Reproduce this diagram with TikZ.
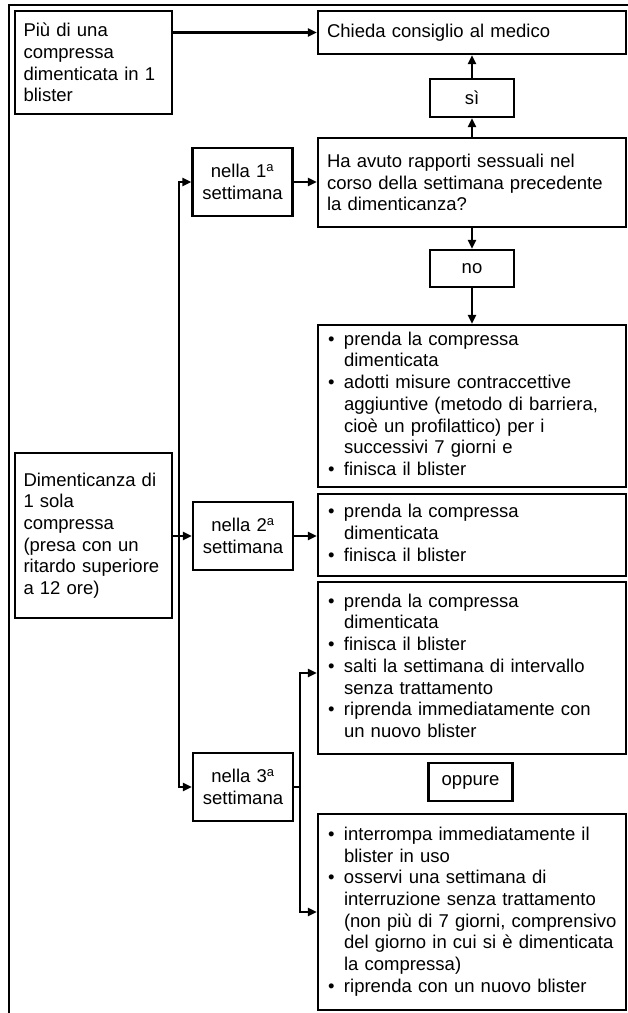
\documentclass[tikz,border=0pt]{standalone}
\usepackage{fontspec}
\setmainfont{Liberation Sans}
\usepackage{tikz}
\usetikzlibrary{arrows.meta}
\newcommand{\bul}{\textbullet&}
\newcommand{\blist}[1]{\begin{tabular}{@{}p{16pt}@{}l@{}}#1\end{tabular}}
\newcommand{\wk}[1]{nella #1\textsuperscript{a}\\settimana}
\tikzset{
  cellbox/.style={draw, line width=2.2pt, inner ysep=2pt},
  sidebox/.style={cellbox, text width=140pt, inner xsep=8.5pt, align=left},
  widebox/.style={cellbox, text width=290pt, inner xsep=9pt, align=left},
  listbox/.style={cellbox, text width=288pt, inner xsep=10pt, align=left},
  weekbox/.style={cellbox, text width=84pt, inner xsep=8pt, align=center, minimum height=68pt},
  tagbox/.style={cellbox, minimum width=84pt, minimum height=38pt, align=center},
  arr/.style={-{Triangle[length=9pt,width=8pt]}, line width=2.2pt}
}

\begin{document}
\begin{tikzpicture}[x=1pt, y=-1pt, font=\fontsize{18.5}{21.7}\selectfont]
\useasboundingbox (0,0) rectangle (628,1013);
\draw[line width=2.2pt] (9,1013) -- (9,5) -- (628,5);
\node[sidebox, minimum height=103pt] at (93.5, 62.5)  (more)  {Più di una\\compressa\\dimenticata in 1\\blister};
\node[widebox, minimum height=43pt]  at (472, 32.5)   (ask)   {Chieda consiglio al medico};
\node[tagbox]                        at (472, 98)     (si)    {sì};
\node[widebox, minimum height=89pt]  at (472, 182.5)  (quest) {Ha avuto rapporti sessuali nel\\corso della settimana precedente\\la dimenticanza?};
\node[tagbox, minimum height=37pt]   at (472, 268.5)  (no)    {no};
\node[listbox, minimum height=162pt] at (472, 406)    (b1)    {\blist{\bul prenda la compressa\\ & dimenticata\\ \bul adotti misure contraccettive\\ & aggiuntive (metodo di barriera,\\ & cioè un profilattico) per i\\ & successivi 7 giorni e\\ \bul finisca il blister}};
\node[sidebox, minimum height=165pt] at (93.5, 535.5) (dim)   {Dimenticanza di\\1 sola\\compressa\\(presa con un\\ritardo superiore\\a 12 ore)};
\node[weekbox]                       at (242.5, 182)  (w1)    {\wk{1}};
\node[weekbox]                       at (243, 536)    (w2)    {\wk{2}};
\node[weekbox]                       at (243, 787)    (w3)    {\wk{3}};
\node[listbox, minimum height=82pt]  at (472, 535)    (b2)    {\blist{\bul prenda la compressa\\ & dimenticata\\ \bul finisca il blister}};
\node[listbox, minimum height=172pt] at (472, 668)    (b3)    {\blist{\bul prenda la compressa\\ & dimenticata\\ \bul finisca il blister\\ \bul salti la settimana di intervallo\\ & senza trattamento\\ \bul riprenda immediatamente con\\ & un nuovo blister}};
\node[tagbox]                        at (470.5, 782)  (alt)   {oppure};
\node[listbox, minimum height=196pt] at (472, 912)    (b4)    {\blist{\bul interrompa immediatamente il\\ & blister in uso\\ \bul osservi una settimana di\\ & interruzione senza trattamento\\ & (non più di 7 giorni, comprensivo\\ & del giorno in cui si è dimenticata\\ & la compressa)\\ \bul riprenda con un nuovo blister}};
\coordinate (split) at (179, 536);
\coordinate (fork)  at (300, 787);
\draw[arr] (more.east |- ask) -- (ask.west);
\draw[arr] (quest.north) -- (si.south);
\draw[arr] (si.north) -- (ask.south);
\draw[arr] (quest.south) -- (no.north);
\draw[arr] (no.south) -- (b1.north);
\draw[arr] (w1.east) -- (quest.west |- w1);
\draw[arr] (dim.east |- w2) -- (w2.west);
\draw[arr] (w2.east) -- (b2.west |- w2);
\draw[arr] (split) |- (w1.west);
\draw[arr] (split) |- (w3.west);
\draw[line width=2.2pt] (w3.east) -- (fork);
\draw[arr] (fork) |- ([yshift=-5pt]b3.west);
\draw[arr] (fork) |- (b4.west);
\end{tikzpicture}
\end{document}
